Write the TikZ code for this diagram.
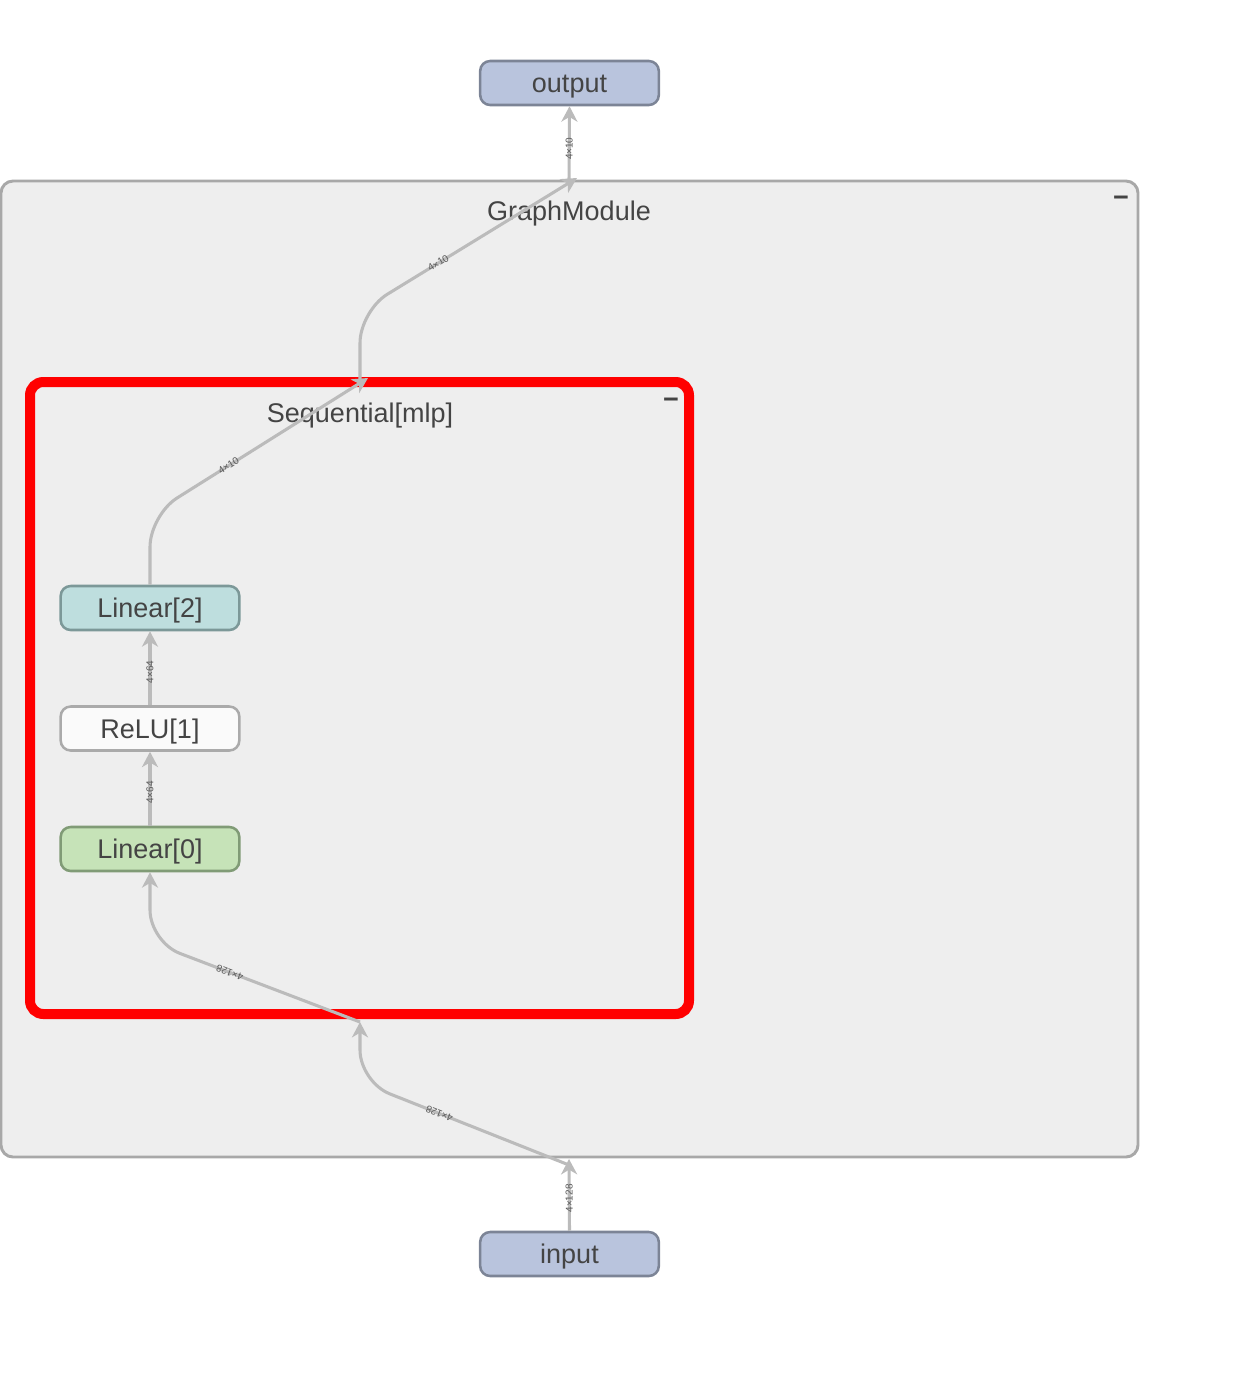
\documentclass[tikz,border=0pt]{standalone}
\usepackage{fontspec}
\setmainfont{Liberation Sans}
\usetikzlibrary{arrows.meta}

\definecolor{txt}{RGB}{68,68,68}
\definecolor{lbl}{RGB}{90,90,90}
\definecolor{iofill}{RGB}{185,196,221}
\definecolor{ioline}{RGB}{124,132,150}
\definecolor{tealfill}{RGB}{190,222,222}
\definecolor{tealline}{RGB}{124,152,152}
\definecolor{greenfill}{RGB}{198,227,184}
\definecolor{greenline}{RGB}{128,155,118}
\definecolor{relufill}{RGB}{250,250,250}
\definecolor{reluline}{RGB}{170,170,170}
\definecolor{clusterfill}{RGB}{238,238,238}
\definecolor{clusterline}{RGB}{168,168,168}
\definecolor{flowline}{RGB}{187,187,187}
\definecolor{hilite}{RGB}{255,0,0}

\tikzset{
  opnode/.style={draw, rounded corners=7.5pt, minimum width=134pt, minimum height=33pt,
    line width=1.9pt, inner sep=0pt, text=txt, text height=14.5pt, text depth=0pt,
    font=\fontsize{20.25}{24}\selectfont},
  ionode/.style={opnode, fill=iofill, draw=ioline},
  tealnode/.style={opnode, fill=tealfill, draw=tealline},
  greennode/.style={opnode, fill=greenfill, draw=greenline},
  relunode/.style={opnode, fill=relufill, draw=reluline},
  clusterbox/.style={draw=clusterline, fill=clusterfill, line width=2.2pt, rounded corners=9pt, inner sep=0pt},
  hilitebox/.style={draw=hilite, line width=7.5pt, rounded corners=10pt, inner sep=0pt},
  ctitle/.style={anchor=base, text=txt, font=\fontsize{20.25}{24}\selectfont, inner sep=0pt},
  collapse/.style={anchor=base, text=txt, font=\bfseries\fontsize{20.25}{24}\selectfont, inner sep=0pt},
  flow/.style={draw=flowline, line width=2.3pt, rounded corners=24pt,
    -{Stealth[length=11.5pt,width=12pt,inset=3.5pt]}},
  dims/.style={sloped, allow upside down, text=lbl, inner sep=1pt,
    font=\fontsize{7.5}{8}\selectfont}
}

\begin{document}
\begin{tikzpicture}[x=0.75pt,y=-0.75pt]
\useasboundingbox (0,0) rectangle (1259,1397);

% outer module and highlighted submodule
\node[clusterbox, minimum width=852.75pt, minimum height=732pt] (graphmod) at (569.5,669) {};
\node[ctitle] (graphtitle) at (569,220) {GraphModule};
\node[collapse] (graphmin) at (1121,206) {−};

\node[hilitebox, minimum width=494.25pt, minimum height=474pt] (seqmlp) at (359.5,698) {};
\node[ctitle] (seqtitle) at (360,422) {Sequential[mlp]};
\node[collapse] (seqmin) at (671,408) {−};

% operation nodes
\node[ionode] (output) at (569.5,83) {output};
\node[ionode] (input) at (569.5,1254) {input};
\node[tealnode] (lin2) at (150,608) {Linear[2]};
\node[relunode] (relu) at (150,728.5) {ReLU[1]};
\node[greennode] (lin0) at (150,849) {Linear[0]};

% ports where edges cross cluster borders
\coordinate (gin) at (569,1159);
\coordinate (ginstart) at (569,1165);
\coordinate (sin) at (360,1022);
\coordinate (sout) at (368,378);
\coordinate (soutstart) at (360,381);
\coordinate (gout) at (577,178);
\coordinate (goutstart) at (569,182);

% corners of the routed edges
\coordinate (c2) at (360,1082);
\coordinate (c3) at (150,942);
\coordinate (c6) at (150,515);
\coordinate (c7) at (360,311);

% edges
\draw[flow] (input.north) -- node[dims, pos=0.45] {4×128} (gin);
\draw[flow] (ginstart) -- node[dims, pos=0.62] {4×128} (c2) -- (sin);
\draw[flow] (sin) -- node[dims, pos=0.62] {4×128} (c3) -- (lin0.south);
\draw[flow] (lin0.north) -- node[dims, pos=0.45] {4×64} (relu.south);
\draw[flow] (relu.north) -- node[dims, pos=0.45] {4×64} (lin2.south);
\draw[flow] (lin2.north) -- (c6) -- node[dims, pos=0.36] {4×10} (sout);
\draw[flow] (soutstart) -- (c7) -- node[dims, pos=0.36] {4×10} (gout);
\draw[flow] (goutstart) -- node[dims, pos=0.44] {4×10} (output.south);
\end{tikzpicture}
\end{document}
